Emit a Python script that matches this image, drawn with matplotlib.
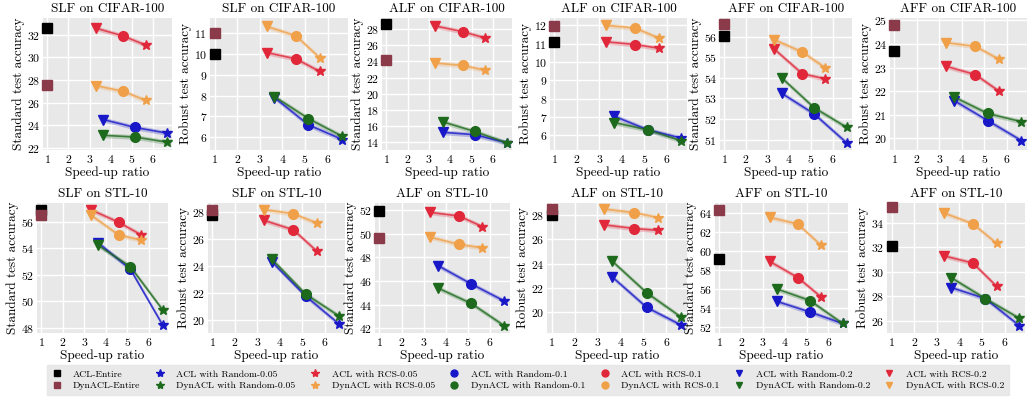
import matplotlib
matplotlib.use("Agg")
import matplotlib.pyplot as plt
from matplotlib.lines import Line2D

plt.rcParams['font.family'] = ['cmr10', 'DejaVu Serif']
plt.rcParams['axes.formatter.use_mathtext'] = True
plt.rcParams['mathtext.fontset'] = 'cm'

# ---- data ----
titles = ["SLF on CIFAR-100", "SLF on CIFAR-100", "ALF on CIFAR-100", "ALF on CIFAR-100",
          "AFF on CIFAR-100", "AFF on CIFAR-100",
          "SLF on STL-10", "SLF on STL-10", "ALF on STL-10", "ALF on STL-10",
          "AFF on STL-10", "AFF on STL-10"]
ylabels = ["Standard test accuracy", "Robust test accuracy"] * 6

entire_x = 1
rcs_speedup = [3.3, 4.6, 5.65]      # subset 0.2, 0.1, 0.05
rand_speedup = [3.65, 5.15, 6.65]   # subset 0.2, 0.1, 0.05

acl_entire = [32.6, 10.0, 28.6, 11.1, 56.05, 23.7, 56.9, 27.8, 51.9, 28.0, 59.1, 32.1]
dyn_entire = [27.6, 11.0, 24.2, 11.95, 56.6, 24.8, 56.5, 28.2, 49.6, 28.5, 64.3, 35.3]

acl_rcs = [[32.6, 31.9, 31.1], [10.05, 9.75, 9.15], [28.4, 27.7, 26.9], [11.1, 10.95, 10.75],
           [55.4, 54.2, 53.95], [23.05, 22.7, 22.0],
           [56.9, 55.95, 55.0], [27.4, 26.7, 25.1], [51.8, 51.5, 50.6], [27.2, 26.9, 26.75],
           [58.9, 57.2, 55.2], [31.3, 30.7, 28.8]]
dyn_rcs = [[27.5, 27.0, 26.2], [11.3, 10.85, 9.8], [23.8, 23.5, 22.9], [12.0, 11.85, 11.3],
           [55.85, 55.25, 54.5], [24.05, 23.9, 23.35],
           [56.5, 55.0, 54.6], [28.2, 27.9, 27.2], [49.7, 49.1, 48.8], [28.5, 28.2, 27.8],
           [63.5, 62.8, 60.6], [34.8, 33.9, 32.3]]
acl_rand = [[24.5, 23.8, 23.3], [7.9, 6.6, 5.9], [15.2, 14.9, 13.9], [7.05, 6.3, 5.85],
            [53.25, 52.25, 50.85], [21.6, 20.75, 19.9],
            [54.4, 52.4, 48.2], [24.3, 21.75, 19.65], [47.3, 45.75, 44.3], [22.9, 20.4, 18.95],
            [54.7, 53.6, 52.4], [28.7, 27.8, 25.6]]
dyn_rand = [[23.1, 22.95, 22.5], [7.95, 6.9, 6.05], [16.5, 15.3, 13.9], [6.7, 6.3, 5.7],
            [54.0, 52.55, 51.6], [21.75, 21.05, 20.7],
            [54.2, 52.6, 49.35], [24.5, 21.9, 20.25], [45.4, 44.1, 42.2], [24.2, 21.6, 19.6],
            [56.0, 54.8, 52.4], [29.5, 27.8, 26.2]]

yticks = [[22, 24, 26, 28, 30, 32], [6, 7, 8, 9, 10, 11], [14, 16, 18, 20, 22, 24, 26, 28],
          [6, 7, 8, 9, 10, 11, 12], [51, 52, 53, 54, 55, 56], [20, 21, 22, 23, 24, 25],
          [48, 50, 52, 54, 56], [20, 22, 24, 26, 28], [42, 44, 46, 48, 50, 52],
          [20, 22, 24, 26, 28], [52, 54, 56, 58, 60, 62, 64], [26, 28, 30, 32, 34]]
ylims = [(21.8, 33.5), (5.4, 11.7), (13.0, 29.4), (5.2, 12.4), (50.5, 56.9), (19.5, 25.1),
         (47.6, 57.4), (19.0, 28.7), (41.6, 52.6), (18.3, 29.0), (51.4, 65.0), (25.0, 35.6)]

# ---- style ----
c_blue = '#1818c8'
c_green = '#1d6a1d'
c_red = '#e0283a'
c_orange = '#f0a048'
c_black = '#000000'
c_brown = '#8a3a48'
markers = ['v', 'o', '*']
msizes = [6.5, 7, 7.5]

fig = plt.figure(figsize=(10.32, 4.09), dpi=100)
W, H = 1032, 409
row_lefts = [[43, 210, 382, 550, 720, 890], [37, 208, 375, 547, 715, 887]]
row_rights = [[172, 348, 512, 687, 852, 1027], [168, 345, 510, 687, 848, 1025]]
rows = [(18, 150), (203, 333)]

for i in range(12):
    r, c = divmod(i, 6)
    top, bot = rows[r]
    l, rr = row_lefts[r][c], row_rights[r][c]
    ax = fig.add_axes([l / W, 1 - bot / H, (rr - l) / W, (bot - top) / H])
    ax.set_facecolor('#e8e8e8')
    for s in ax.spines.values():
        s.set_visible(False)
    ax.grid(True, color='white', linewidth=1.0)
    ax.set_axisbelow(True)
    ax.tick_params(length=0, labelsize=8.5, pad=2)
    ax.set_xlim(0.8, 6.9)
    ax.set_xticks([1, 2, 3, 4, 5, 6])
    ax.set_ylim(*ylims[i])
    ax.set_yticks(yticks[i])
    band = 0.018 * (ylims[i][1] - ylims[i][0])
    for xs, ys, col in [(rcs_speedup, acl_rcs[i], c_red), (rcs_speedup, dyn_rcs[i], c_orange),
                        (rand_speedup, acl_rand[i], c_blue), (rand_speedup, dyn_rand[i], c_green)]:
        ax.fill_between(xs, [y - band for y in ys], [y + band for y in ys],
                        color=col, alpha=0.25, linewidth=0)
        ax.plot(xs, ys, color=col, linewidth=1.2, alpha=0.8)
        for x, y, m, ms in zip(xs, ys, markers, msizes):
            ax.plot([x], [y], marker=m, color=col, markersize=ms, linestyle='none',
                    clip_on=False)
    ax.plot([entire_x], [acl_entire[i]], marker='s', color=c_black, markersize=6.5,
            linestyle='none', clip_on=False)
    ax.plot([entire_x], [dyn_entire[i]], marker='s', color=c_brown, markersize=6.5,
            linestyle='none', clip_on=False)
    ax.set_title(titles[i], fontsize=9.5, pad=4)
    ax.set_xlabel("Speed-up ratio", fontsize=9.5, labelpad=1)
    ax.set_ylabel(ylabels[i], fontsize=9.5, labelpad=1)

# ---- legend ----
def h(m, col, ms=5):
    return Line2D([], [], marker=m, color=col, linestyle='none', markersize=ms)

handles = [h('s', c_black), h('s', c_brown),
           h('*', c_blue, 6), h('*', c_green, 6),
           h('*', c_red, 6), h('*', c_orange, 6),
           h('o', c_blue), h('o', c_green),
           h('o', c_red), h('o', c_orange),
           h('v', c_blue), h('v', c_green),
           h('v', c_red), h('v', c_orange)]
labels = ["ACL-Entire", "DynACL-Entire",
          "ACL with Random-0.05", "DynACL with Random-0.05",
          "ACL with RCS-0.05", "DynACL with RCS-0.05",
          "ACL with Random-0.1", "DynACL with Random-0.1",
          "ACL with RCS-0.1", "DynACL with RCS-0.1",
          "ACL with Random-0.2", "DynACL with Random-0.2",
          "ACL with RCS-0.2", "DynACL with RCS-0.2"]
leg = fig.legend(handles, labels, ncol=7, loc='center', bbox_to_anchor=(528 / W, 1 - 380 / H),
                 fontsize=7, frameon=True, fancybox=False, columnspacing=1.5,
                 handletextpad=1.2, borderpad=0.5, labelspacing=0.3, handlelength=1.0)
leg.get_frame().set_facecolor('#e4e4e4')
leg.get_frame().set_edgecolor('#e4e4e4')

fig.savefig("out.png", dpi=100)
